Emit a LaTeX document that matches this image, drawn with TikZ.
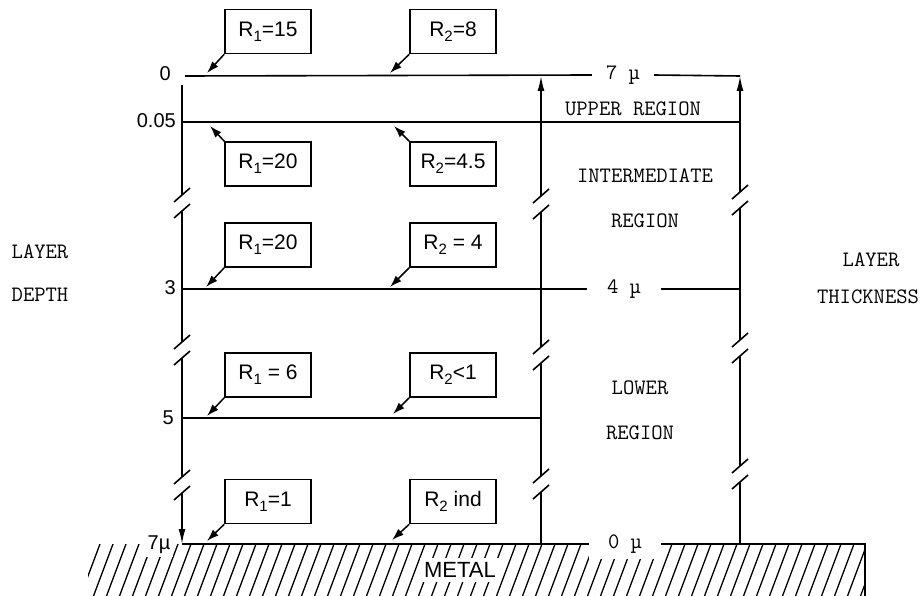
\documentclass[tikz,border=0pt]{standalone}
\usepackage{fontspec}
\setsansfont{Liberation Sans}
\usetikzlibrary{arrows.meta,positioning}
\newcommand{\rsub}[1]{\raisebox{-5pt}{\fontsize{15}{16}\selectfont #1}}
\newcommand{\axisgap}[2]{%
  \draw[breakmark] (#1-8,#2-1) -- (#1+8,#2-15);
  \draw[breakmark] (#1-8,#2+15) -- (#1+8,#2+1);
}
\tikzset{
  axisline/.style={line width=1.6pt},
  uparrow/.style={axisline,-{Latex[length=15pt,width=7pt]}},
  breakmark/.style={line width=1.6pt},
  rbox/.style={draw,line width=1.6pt,minimum width=86pt,minimum height=44pt,inner sep=0pt,font=\sffamily\fontsize{21}{24}\selectfont},
  rarrow/.style={line width=1.5pt,-{Latex[length=12pt,width=8pt]}},
  tlabel/.style={font=\ttfamily\fontsize{22}{24}\selectfont,inner sep=0pt},
  gaplabel/.style={tlabel,fill=white,inner ysep=6pt},
  depthnum/.style={font=\sffamily\fontsize{20}{22}\selectfont,inner sep=0pt,anchor=east},
  hatchline/.style={line width=1.3pt}
}

\begin{document}
\begin{tikzpicture}[x=1pt,y=-1pt]
  \useasboundingbox (0,0) rectangle (923,596);
  \begin{scope}
    \clip (88,544) rectangle (865,600);
    \foreach \i in {66,79,...,880} \draw[hatchline] (\i,600) -- (\i+21,544);
  \end{scope}
  \node[font=\sffamily\fontsize{22}{24}\selectfont,fill=white,inner sep=4pt] (metal) at (460,570) {METAL};
  \node[gaplabel,inner xsep=19pt] (zeromu) at (625,544) {0 µ};
  \node[font=\sffamily\fontsize{20}{22}\selectfont,fill=white,inner sep=3pt] (depthmu) at (159,545) {7µ};
  \node[tlabel,inner xsep=14pt] (topmu) at (623,75) {7 µ};
  \node[tlabel,inner xsep=20pt] (midmu) at (624,289) {4 µ};
  \draw[axisline] (182,544) -- (zeromu.west);
  \draw[axisline] (zeromu.east) -- (865,544) -- (865,600);
  \draw[axisline] (185,76) -- (topmu.west);
  \draw[axisline] (topmu.east) -- (740,76);
  \draw[axisline] (182,122) -- (740,122);
  \draw[axisline] (182,289) -- (midmu.west);
  \draw[axisline] (midmu.east) -- (740,289);
  \draw[axisline] (182,418) -- (541,418);
  \draw[axisline] (182,85) -- (182,195);
  \draw[axisline] (182,211) -- (182,342);
  \draw[axisline] (182,358) -- (182,477);
  \draw[uparrow] (182,493) -- (182,544);
  \axisgap{182}{203}
  \axisgap{182}{350}
  \axisgap{182}{485}
  \draw[axisline] (541,544) -- (541,492);
  \draw[axisline] (541,476) -- (541,363);
  \draw[axisline] (541,347) -- (541,212);
  \draw[uparrow] (541,196) -- (541,76);
  \axisgap{541}{484}
  \axisgap{541}{355}
  \axisgap{541}{204}
  \draw[axisline] (740,544) -- (740,482);
  \draw[axisline] (740,466) -- (740,356);
  \draw[axisline] (740,340) -- (740,208);
  \draw[uparrow] (740,192) -- (740,76);
  \axisgap{740}{474}
  \axisgap{740}{348}
  \axisgap{740}{200}
  \node[depthnum] (d0) at (171,74) {0};
  \node[depthnum] (d005) at (176,121) {0.05};
  \node[depthnum] (d3) at (176,288) {3};
  \node[depthnum] (d5) at (174,418) {5};
  \node[tlabel] (upper) at (633,109) {UPPER REGION};
  \node[tlabel] (inter) at (645,176) {INTERMEDIATE};
  \node[tlabel] (interb) at (645,221) {REGION};
  \node[tlabel] (lower) at (640,388) {LOWER};
  \node[tlabel] (lowerb) at (640,433) {REGION};
  \node[tlabel] (thicka) at (871,260) {LAYER};
  \node[tlabel] (thickb) at (868,297) {THICKNESS};
  \node[tlabel] (deptha) at (40,252) {LAYER};
  \node[tlabel] (depthb) at (40,295) {DEPTH};
  \node[rbox] (ra) at (268,31.5) {R\rsub{1}=15};
  \node[rbox] (sa) at (453,31.5) {R\rsub{2}=8};
  \node[rbox] (rb) at (268,164) {R\rsub{1}=20};
  \node[rbox] (sb) at (453,164) {R\rsub{2}=4.5};
  \node[rbox] (rc) at (268,245) {R\rsub{1}=20};
  \node[rbox] (sc) at (453,245) {R\rsub{2} = 4};
  \node[rbox] (rd) at (268,375) {R\rsub{1} = 6};
  \node[rbox] (sd) at (453,375) {R\rsub{2}<1};
  \node[rbox] (re) at (268,501.5) {R\rsub{1}=1};
  \node[rbox] (se) at (453,501.5) {R\rsub{2} ind};
  \coordinate (pa) at (207,73);
  \coordinate (qa) at (390,73);
  \coordinate (pb) at (210,126);
  \coordinate (qb) at (394,126);
  \coordinate (pc) at (206,287);
  \coordinate (qc) at (390,287);
  \coordinate (pd) at (207,416);
  \coordinate (qd) at (393,414);
  \coordinate (pe) at (207,541);
  \coordinate (qe) at (392,540);
  \draw[rarrow] (ra.south west) -- (pa);
  \draw[rarrow] (sa.south west) -- (qa);
  \draw[rarrow] (rb.north west) -- (pb);
  \draw[rarrow] (sb.north west) -- (qb);
  \draw[rarrow] (rc.south west) -- (pc);
  \draw[rarrow] (sc.south west) -- (qc);
  \draw[rarrow] (rd.south west) -- (pd);
  \draw[rarrow] (sd.south west) -- (qd);
  \draw[rarrow] (re.south west) -- (pe);
  \draw[rarrow] (se.south west) -- (qe);
\end{tikzpicture}
\end{document}
